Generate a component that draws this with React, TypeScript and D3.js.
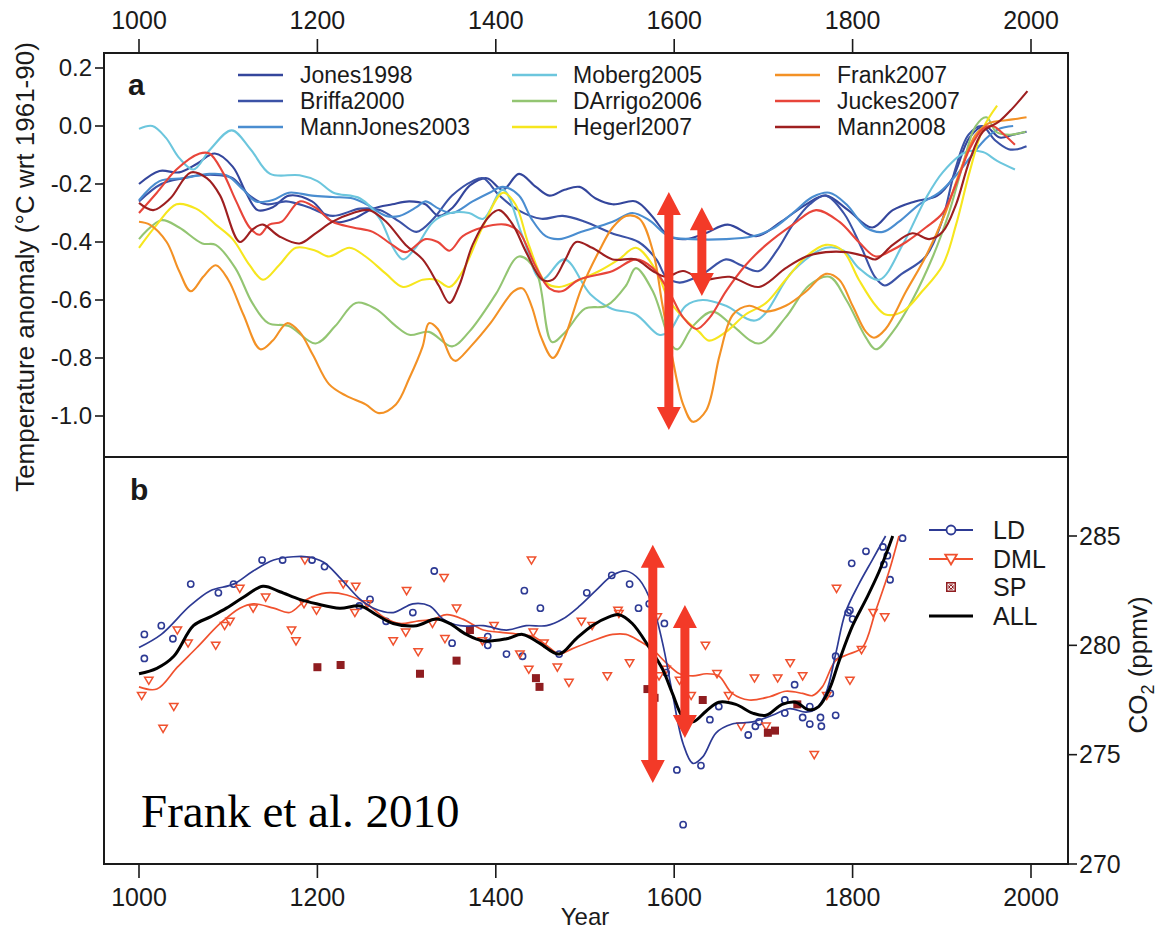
import React from "react";
import * as d3 from "d3";

// ---------- axes / ticks ----------
const yearTicks = [1000, 1200, 1400, 1600, 1800, 2000];
const tempTicks = [0.2, 0.0, -0.2, -0.4, -0.6, -0.8, -1.0];
const co2Ticks = [285, 280, 275, 270];

// ---------- panel a: temperature reconstructions [year, anomaly] ----------
const jones1998: [number, number][] = [[1000,-0.20],[1023,-0.155],[1045,-0.16],[1065,-0.13],[1085,-0.095],[1105,-0.14],[1120,-0.23],[1133,-0.29],[1150,-0.28],[1168,-0.24],[1194,-0.26],[1217,-0.33],[1240,-0.32],[1262,-0.285],[1284,-0.27],[1303,-0.26],[1321,-0.27],[1336,-0.31],[1352,-0.28],[1371,-0.205],[1390,-0.18],[1408,-0.22],[1426,-0.165],[1445,-0.21],[1460,-0.24],[1477,-0.22],[1494,-0.21],[1512,-0.25],[1531,-0.27],[1557,-0.26],[1575,-0.31],[1594,-0.38],[1613,-0.39],[1635,-0.37],[1660,-0.34],[1692,-0.38],[1720,-0.33],[1748,-0.27],[1770,-0.24],[1795,-0.29],[1822,-0.35],[1845,-0.29],[1870,-0.26],[1895,-0.24],[1912,-0.18],[1931,-0.04],[1948,0.0],[1965,-0.04],[1980,-0.03],[1995,-0.02]];
const briffa2000: [number, number][] = [[1000,-0.26],[1025,-0.20],[1050,-0.18],[1068,-0.17],[1090,-0.17],[1105,-0.18],[1124,-0.24],[1143,-0.27],[1165,-0.26],[1190,-0.28],[1217,-0.31],[1248,-0.285],[1270,-0.29],[1292,-0.33],[1311,-0.365],[1330,-0.32],[1351,-0.24],[1374,-0.19],[1386,-0.18],[1404,-0.24],[1425,-0.29],[1451,-0.32],[1475,-0.31],[1500,-0.33],[1530,-0.37],[1560,-0.40],[1580,-0.46],[1591,-0.52],[1606,-0.54],[1632,-0.51],[1658,-0.46],[1675,-0.48],[1695,-0.50],[1715,-0.43],[1733,-0.34],[1752,-0.27],[1770,-0.24],[1790,-0.30],[1810,-0.42],[1825,-0.52],[1836,-0.55],[1855,-0.51],[1882,-0.45],[1900,-0.33],[1915,-0.15],[1930,-0.03],[1945,0.0],[1960,-0.05],[1975,-0.08],[1985,-0.08],[1995,-0.07]];
const mannJones2003: [number, number][] = [[1000,-0.256],[1023,-0.19],[1050,-0.18],[1079,-0.165],[1098,-0.17],[1117,-0.22],[1131,-0.26],[1150,-0.255],[1168,-0.23],[1194,-0.24],[1217,-0.245],[1240,-0.25],[1255,-0.27],[1277,-0.31],[1292,-0.31],[1311,-0.28],[1321,-0.26],[1336,-0.285],[1351,-0.30],[1374,-0.26],[1393,-0.23],[1408,-0.21],[1426,-0.24],[1440,-0.32],[1456,-0.38],[1471,-0.39],[1496,-0.365],[1531,-0.33],[1553,-0.30],[1572,-0.325],[1594,-0.38],[1620,-0.39],[1658,-0.39],[1688,-0.38],[1710,-0.355],[1733,-0.30],[1755,-0.245],[1774,-0.23],[1793,-0.27],[1815,-0.35],[1834,-0.365],[1852,-0.33],[1875,-0.27],[1897,-0.23],[1916,-0.17],[1934,-0.10],[1949,-0.045],[1964,-0.01],[1980,0.0]];
const moberg2005: [number, number][] = [[1000,-0.01],[1015,0.0],[1030,-0.04],[1045,-0.11],[1061,-0.15],[1080,-0.08],[1104,-0.015],[1125,-0.08],[1147,-0.165],[1180,-0.17],[1200,-0.19],[1218,-0.23],[1248,-0.25],[1270,-0.32],[1285,-0.42],[1296,-0.46],[1310,-0.42],[1330,-0.33],[1349,-0.30],[1370,-0.30],[1386,-0.32],[1408,-0.22],[1430,-0.38],[1451,-0.53],[1477,-0.46],[1506,-0.58],[1530,-0.63],[1557,-0.65],[1583,-0.72],[1594,-0.71],[1613,-0.62],[1632,-0.60],[1658,-0.62],[1692,-0.67],[1733,-0.50],[1770,-0.42],[1790,-0.43],[1807,-0.49],[1830,-0.53],[1856,-0.41],[1882,-0.25],[1901,-0.16],[1927,-0.09],[1946,-0.09],[1962,-0.12],[1982,-0.15]];
const dArrigo2006: [number, number][] = [[1000,-0.39],[1025,-0.325],[1045,-0.35],[1071,-0.405],[1086,-0.41],[1108,-0.49],[1127,-0.61],[1145,-0.68],[1168,-0.69],[1198,-0.75],[1220,-0.69],[1243,-0.61],[1265,-0.63],[1288,-0.69],[1303,-0.72],[1325,-0.71],[1351,-0.76],[1370,-0.71],[1400,-0.58],[1426,-0.45],[1445,-0.50],[1463,-0.745],[1478,-0.71],[1500,-0.63],[1524,-0.62],[1546,-0.55],[1557,-0.49],[1576,-0.57],[1598,-0.76],[1604,-0.77],[1621,-0.69],[1643,-0.64],[1666,-0.69],[1695,-0.75],[1725,-0.66],[1751,-0.55],[1774,-0.52],[1793,-0.60],[1815,-0.73],[1826,-0.77],[1845,-0.71],[1867,-0.60],[1890,-0.45],[1908,-0.30],[1923,-0.14],[1938,0.0],[1950,0.03],[1961,-0.02],[1976,-0.03],[1994,-0.02]];
const hegerl2007: [number, number][] = [[1000,-0.42],[1020,-0.34],[1042,-0.27],[1064,-0.285],[1086,-0.34],[1105,-0.39],[1124,-0.48],[1139,-0.53],[1157,-0.48],[1176,-0.42],[1198,-0.43],[1213,-0.45],[1236,-0.42],[1254,-0.45],[1277,-0.51],[1296,-0.555],[1318,-0.53],[1333,-0.53],[1348,-0.555],[1363,-0.50],[1385,-0.35],[1408,-0.23],[1422,-0.27],[1437,-0.41],[1456,-0.54],[1471,-0.555],[1494,-0.53],[1516,-0.50],[1538,-0.46],[1557,-0.42],[1580,-0.50],[1594,-0.60],[1610,-0.66],[1628,-0.71],[1639,-0.74],[1658,-0.71],[1680,-0.65],[1703,-0.61],[1725,-0.53],[1748,-0.45],[1770,-0.41],[1789,-0.43],[1807,-0.53],[1826,-0.62],[1837,-0.65],[1856,-0.64],[1878,-0.57],[1901,-0.48],[1916,-0.34],[1931,-0.16],[1946,-0.01],[1962,0.07]];
const frank2007: [number, number][] = [[1000,-0.33],[1012,-0.34],[1031,-0.40],[1045,-0.50],[1058,-0.57],[1072,-0.52],[1086,-0.48],[1100,-0.53],[1117,-0.65],[1136,-0.77],[1150,-0.74],[1166,-0.68],[1180,-0.71],[1195,-0.79],[1213,-0.89],[1232,-0.93],[1254,-0.96],[1269,-0.99],[1288,-0.96],[1303,-0.87],[1318,-0.76],[1325,-0.68],[1335,-0.70],[1350,-0.80],[1355,-0.81],[1372,-0.76],[1394,-0.68],[1420,-0.57],[1430,-0.56],[1440,-0.62],[1451,-0.73],[1464,-0.80],[1477,-0.73],[1496,-0.56],[1516,-0.43],[1531,-0.35],[1546,-0.31],[1561,-0.32],[1576,-0.43],[1587,-0.62],[1598,-0.80],[1610,-0.96],[1621,-1.02],[1636,-0.98],[1651,-0.79],[1666,-0.65],[1684,-0.62],[1703,-0.64],[1725,-0.62],[1748,-0.57],[1770,-0.51],[1785,-0.53],[1800,-0.62],[1815,-0.71],[1824,-0.73],[1837,-0.70],[1860,-0.57],[1882,-0.45],[1904,-0.30],[1920,-0.16],[1938,-0.03],[1953,0.01],[1972,0.02],[1985,0.025],[1995,0.03]];
const juckes2007: [number, number][] = [[1000,-0.30],[1020,-0.23],[1042,-0.15],[1068,-0.095],[1079,-0.095],[1094,-0.16],[1109,-0.26],[1124,-0.35],[1135,-0.375],[1146,-0.34],[1160,-0.33],[1180,-0.26],[1197,-0.28],[1217,-0.33],[1240,-0.35],[1262,-0.365],[1284,-0.41],[1299,-0.435],[1321,-0.39],[1335,-0.40],[1348,-0.43],[1363,-0.38],[1385,-0.35],[1411,-0.34],[1426,-0.365],[1444,-0.48],[1460,-0.56],[1474,-0.57],[1493,-0.53],[1531,-0.50],[1557,-0.46],[1576,-0.49],[1594,-0.57],[1610,-0.66],[1625,-0.70],[1640,-0.66],[1658,-0.57],[1680,-0.48],[1703,-0.41],[1733,-0.34],[1759,-0.29],[1785,-0.33],[1807,-0.40],[1826,-0.45],[1843,-0.43],[1860,-0.40],[1882,-0.35],[1901,-0.30],[1916,-0.20],[1931,-0.08],[1946,-0.01],[1957,0.0],[1970,-0.03],[1982,-0.065]];
const mann2008: [number, number][] = [[1000,-0.265],[1016,-0.29],[1035,-0.25],[1058,-0.16],[1076,-0.18],[1091,-0.24],[1113,-0.40],[1128,-0.355],[1139,-0.34],[1157,-0.38],[1180,-0.405],[1198,-0.37],[1217,-0.33],[1240,-0.30],[1258,-0.29],[1277,-0.33],[1299,-0.41],[1318,-0.46],[1336,-0.55],[1348,-0.61],[1359,-0.55],[1374,-0.41],[1393,-0.31],[1404,-0.29],[1419,-0.34],[1434,-0.435],[1452,-0.53],[1464,-0.53],[1478,-0.46],[1490,-0.40],[1508,-0.42],[1531,-0.46],[1557,-0.46],[1576,-0.50],[1591,-0.52],[1610,-0.50],[1632,-0.53],[1662,-0.52],[1695,-0.555],[1725,-0.49],[1748,-0.45],[1770,-0.435],[1793,-0.435],[1815,-0.45],[1826,-0.46],[1845,-0.41],[1867,-0.37],[1886,-0.39],[1901,-0.365],[1916,-0.27],[1931,-0.12],[1946,-0.02],[1964,0.015],[1979,0.06],[1996,0.12]];

const recNames = ["Jones1998","Briffa2000","MannJones2003","Moberg2005","DArrigo2006","Hegerl2007","Frank2007","Juckes2007","Mann2008"];
const recColors = ["#34469c","#3b52a6","#4a8dd0","#6cc6dd","#93c572","#f6e61e","#f39125","#e8453a","#9e1f20"];
const recData = [jones1998, briffa2000, mannJones2003, moberg2005, dArrigo2006, hegerl2007, frank2007, juckes2007, mann2008];

// ---------- panel b: CO2 [year, ppmv] ----------
const ldPoints: [number, number][] = [[1006,280.5],[1006,279.4],[1025,280.9],[1038,280.3],[1058,282.8],[1089,282.4],[1106,282.8],[1138,283.9],[1161,283.9],[1194,283.9],[1208,283.6],[1247,281.8],[1259,282.1],[1277,281.1],[1307,281.5],[1331,283.4],[1351,280.1],[1391,280.4],[1391,280.0],[1412,279.6],[1430,279.5],[1432,282.5],[1450,281.7],[1471,279.6],[1502,282.4],[1530,283.2],[1550,282.8],[1560,281.7],[1572,281.9],[1589,281.0],[1591,278.75],[1603,274.3],[1610,271.8],[1630,274.5],[1640,276.6],[1650,277.2],[1683,275.9],[1691,276.3],[1695,276.5],[1724,276.9],[1724,277.5],[1735,278.2],[1744,276.7],[1752,277.2],[1752,276.4],[1764,276.7],[1765,276.3],[1775,277.8],[1781,276.8],[1781,279.5],[1795,281.5],[1797,281.6],[1800,281.2],[1799,283.75],[1815,284.3],[1834,284.5],[1835,283.7],[1839,284.1],[1842,283.0],[1856,284.9]];
const dmlPoints: [number, number][] = [[1003,277.7],[1011,278.4],[1027,276.2],[1039,277.2],[1043,280.7],[1055,280.1],[1086,280.0],[1096,280.9],[1102,281.1],[1113,282.6],[1128,281.7],[1142,282.2],[1171,280.7],[1176,280.2],[1185,281.9],[1186,283.9],[1199,281.6],[1229,282.8],[1243,282.7],[1242,281.5],[1256,281.9],[1285,280.2],[1299,280.6],[1300,282.5],[1313,279.7],[1329,281.0],[1342,283.1],[1343,280.3],[1356,281.7],[1385,280.2],[1398,280.9],[1427,279.6],[1437,278.9],[1440,283.9],[1442,280.6],[1454,280.1],[1469,279.0],[1482,278.3],[1496,281.1],[1508,280.9],[1525,278.6],[1537,281.6],[1538,281.45],[1550,279.2],[1581,281.3],[1583,278.6],[1591,278.9],[1606,278.4],[1619,277.7],[1635,280.0],[1648,278.7],[1661,277.7],[1675,276.3],[1690,278.5],[1703,276.3],[1716,278.5],[1730,279.2],[1744,278.6],[1757,275.0],[1771,277.7],[1782,282.6],[1797,278.4],[1810,279.8],[1823,281.5],[1836,281.3]];
const spPoints: [number, number][] = [[1200,279.0],[1226,279.1],[1315,278.7],[1356,279.3],[1371,280.7],[1445,278.5],[1449,278.1],[1570,278.0],[1578,277.6],[1632,277.5],[1705,276.0],[1713,276.1],[1738,277.3]];
const ldCurve: [number, number][] = [[1000,279.9],[1025,280.5],[1057,281.8],[1080,282.5],[1106,282.8],[1128,283.4],[1151,283.9],[1173,284.05],[1188,284.05],[1207,283.8],[1225,283.1],[1248,282.1],[1263,281.7],[1285,281.5],[1307,281.9],[1326,281.8],[1341,281.2],[1360,280.9],[1386,280.9],[1412,280.7],[1434,280.9],[1457,280.9],[1475,281.2],[1494,281.8],[1512,282.5],[1531,283.2],[1546,283.4],[1561,283.0],[1576,281.8],[1587,280.1],[1598,277.8],[1610,275.5],[1621,274.6],[1632,274.9],[1647,276.0],[1665,276.4],[1688,276.5],[1710,276.8],[1729,277.1],[1748,276.95],[1759,277.1],[1770,277.8],[1781,279.6],[1792,281.5],[1807,282.8],[1822,283.9],[1837,285.0]];
const dmlCurve: [number, number][] = [[1000,278.1],[1020,278.0],[1043,279.0],[1065,279.9],[1091,281.0],[1113,281.7],[1128,281.9],[1151,281.7],[1169,281.5],[1188,282.1],[1210,282.4],[1233,282.3],[1255,281.9],[1274,281.3],[1292,281.0],[1311,281.1],[1330,281.2],[1345,281.4],[1363,281.2],[1386,280.7],[1404,280.6],[1427,280.5],[1442,280.4],[1457,280.0],[1471,279.6],[1486,279.85],[1508,280.2],[1531,280.5],[1546,280.5],[1561,280.2],[1576,279.8],[1591,279.2],[1606,278.7],[1621,278.6],[1636,278.7],[1650,278.6],[1665,277.8],[1684,277.5],[1707,277.65],[1725,277.9],[1744,277.8],[1755,277.7],[1766,278.1],[1781,279.3],[1796,279.6],[1811,279.9],[1826,281.6],[1841,283.4],[1852,285.0]];
const allCurve: [number, number][] = [[1000,278.7],[1020,278.95],[1039,279.5],[1061,280.9],[1080,281.3],[1098,281.7],[1117,282.2],[1139,282.7],[1158,282.45],[1180,282.1],[1199,281.9],[1225,281.7],[1248,281.8],[1266,281.4],[1285,281.0],[1311,280.9],[1333,281.2],[1348,281.0],[1367,280.5],[1386,280.2],[1412,280.3],[1430,280.5],[1449,280.1],[1471,279.6],[1490,280.3],[1508,280.9],[1527,281.3],[1538,281.4],[1553,281.0],[1572,279.9],[1587,278.9],[1598,277.8],[1610,276.7],[1621,276.5],[1636,277.0],[1650,277.4],[1669,277.3],[1688,276.9],[1703,276.8],[1721,277.3],[1736,277.4],[1751,277.05],[1762,277.2],[1774,278.0],[1785,279.3],[1800,280.9],[1815,282.1],[1830,283.4],[1845,285.0]];

// annotation arrows: [year, from, to]
const arrowsA: [number, number, number][] = [[1594, -0.228, -1.048], [1631, -0.28, -0.586]];
const arrowsB: [number, number, number][] = [[1576, 284.6, 273.7], [1612, 281.85, 275.76]];

const FONT = "'Liberation Sans', Arial, Helvetica, sans-serif";
const INK = "#1a1a1a";

function arrowPath(x: number, y1: number, y2: number) {
  const hw = 12, hh = 23, sw = 4.5;
  const top = Math.min(y1, y2), bot = Math.max(y1, y2);
  return `M${x},${top}L${x + hw},${top + hh}L${x + sw},${top + hh}L${x + sw},${bot - hh}L${x + hw},${bot - hh}L${x},${bot}L${x - hw},${bot - hh}L${x - sw},${bot - hh}L${x - sw},${top + hh}L${x - hw},${top + hh}Z`;
}

export default function App() {
  const L = 104, R = 1068, TA = 53, MID = 457, BB = 864;
  const x = d3.scaleLinear().domain([1000, 2000]).range([139, 1031]);
  const yA = d3.scaleLinear().domain([0, -1]).range([126, 416]);
  const yB = d3.scaleLinear().domain([270, 285]).range([864, 536]);

  const lineA = d3.line<[number, number]>().x(d => x(d[0])).y(d => yA(d[1])).curve(d3.curveCatmullRom.alpha(0.5));
  const lineB = d3.line<[number, number]>().x(d => x(d[0])).y(d => yB(d[1])).curve(d3.curveCatmullRom.alpha(0.5));

  const legendCols = [{ lx: 238, tx: 300 }, { lx: 512, tx: 573 }, { lx: 775, tx: 837 }];
  const legendRows = [75, 101, 127];

  const LDc = "#2d3a94", DMLc = "#f0512e", SPc = "#8f1d20", ARc = "#f33a28";

  const tri = (cx: number, cy: number, s: number) =>
    `M${cx - s},${cy - s * 0.75}L${cx + s},${cy - s * 0.75}L${cx},${cy + s * 0.95}Z`;

  return (
    <svg width={1159} height={932} style={{ position: "absolute", left: 0, top: 0, background: "#fff" }} fontFamily={FONT}>
      <defs>
        <clipPath id="clipA"><rect x={L} y={TA} width={R - L} height={MID - TA} /></clipPath>
        <clipPath id="clipB"><rect x={L} y={MID} width={R - L} height={BB - MID} /></clipPath>
      </defs>
      <rect x={0} y={0} width={1159} height={932} fill="#fff" />

      {/* panel a lines */}
      <g clipPath="url(#clipA)" fill="none" strokeWidth={2.1} strokeLinejoin="round">
        {recData.map((d, i) => (
          <path key={recNames[i]} d={lineA(d) || ""} stroke={recColors[i]} />
        ))}
      </g>

      {/* panel a legend */}
      {recNames.map((n, i) => {
        const c = legendCols[Math.floor(i / 3)], ry = legendRows[i % 3];
        return (
          <g key={"lg" + n}>
            <line x1={c.lx} x2={c.lx + 45} y1={ry} y2={ry} stroke={recColors[i]} strokeWidth={2.6} />
            <text x={c.tx} y={ry} dy="0.35em" fontSize={23} fill={INK}>{n}</text>
          </g>
        );
      })}
      <text x={128} y={95} fontSize={30} fontWeight="bold" fill={INK}>a</text>

      {/* arrows a */}
      {arrowsA.map((a, i) => (
        <path key={"aa" + i} d={arrowPath(x(a[0]), yA(a[1]), yA(a[2]))} fill={ARc} />
      ))}

      {/* panel b */}
      <g clipPath="url(#clipB)">
        {ldPoints.map((p, i) => (
          <circle key={"ld" + i} cx={x(p[0])} cy={yB(p[1])} r={3.1} fill="none" stroke={LDc} strokeWidth={1.6} />
        ))}
        {dmlPoints.map((p, i) => (
          <path key={"dm" + i} d={tri(x(p[0]), yB(p[1]), 4.2)} fill="none" stroke={DMLc} strokeWidth={1.5} />
        ))}
        {spPoints.map((p, i) => (
          <rect key={"sp" + i} x={x(p[0]) - 4} y={yB(p[1]) - 4} width={8} height={8} fill={SPc} />
        ))}
        <path d={lineB(dmlCurve) || ""} fill="none" stroke={DMLc} strokeWidth={1.7} />
        <path d={lineB(ldCurve) || ""} fill="none" stroke={LDc} strokeWidth={1.7} />
        <path d={lineB(allCurve) || ""} fill="none" stroke="#000" strokeWidth={3} />
      </g>
      <text x={130} y={500} fontSize={30} fontWeight="bold" fill={INK}>b</text>

      {arrowsB.map((a, i) => (
        <path key={"ab" + i} d={arrowPath(x(a[0]), yB(a[1]), yB(a[2]))} fill={ARc} />
      ))}

      {/* panel b legend */}
      <g>
        <line x1={929} x2={973} y1={530} y2={530} stroke={LDc} strokeWidth={2} />
        <circle cx={951} cy={530} r={4.5} fill="#fff" stroke={LDc} strokeWidth={1.8} />
        <text x={993} y={530} dy="0.35em" fontSize={25} fill={INK}>LD</text>
        <line x1={929} x2={973} y1={559} y2={559} stroke={DMLc} strokeWidth={2} />
        <path d={tri(951, 559, 5.8)} fill="#fff" stroke={DMLc} strokeWidth={1.8} />
        <text x={993} y={559} dy="0.35em" fontSize={25} fill={INK}>DML</text>
        <rect x={946} y={582} width={10} height={10} fill={SPc} />
        <rect x={948} y={584} width={6} height={6} fill="none" stroke="#fff" strokeWidth={0.9} />
        <line x1={948} y1={584} x2={954} y2={590} stroke="#fff" strokeWidth={0.9} />
        <line x1={954} y1={584} x2={948} y2={590} stroke="#fff" strokeWidth={0.9} />
        <text x={993} y={587} dy="0.35em" fontSize={25} fill={INK}>SP</text>
        <line x1={929} x2={973} y1={616} y2={616} stroke="#000" strokeWidth={3} />
        <text x={993} y={616} dy="0.35em" fontSize={25} fill={INK}>ALL</text>
      </g>

      <text x={141} y={827} fontSize={47} fontFamily="'Liberation Serif', 'Times New Roman', serif" fill="#000">Frank et al. 2010</text>

      {/* frames */}
      <rect x={L} y={TA} width={R - L} height={BB - TA} fill="none" stroke={INK} strokeWidth={2} />
      <line x1={L} x2={R} y1={MID} y2={MID} stroke={INK} strokeWidth={2} />

      {/* top axis */}
      {yearTicks.map(t => (
        <g key={"tt" + t}>
          <line x1={x(t)} x2={x(t)} y1={TA} y2={TA - 14} stroke={INK} strokeWidth={1.6} />
          <text x={x(t)} y={29} textAnchor="middle" fontSize={25} fill={INK}>{t}</text>
        </g>
      ))}
      {/* bottom axis */}
      {yearTicks.map(t => (
        <g key={"bt" + t}>
          <line x1={x(t)} x2={x(t)} y1={BB} y2={BB + 14} stroke={INK} strokeWidth={1.6} />
          <text x={x(t)} y={906} textAnchor="middle" fontSize={25} fill={INK}>{t}</text>
        </g>
      ))}
      <text x={x(1500)} y={925} textAnchor="middle" fontSize={24} fill={INK}>Year</text>

      {/* left axis (temperature) */}
      {tempTicks.map(t => (
        <g key={"lt" + t}>
          <line x1={L} x2={L - 9} y1={yA(t)} y2={yA(t)} stroke={INK} strokeWidth={1.6} />
          <text x={92} y={yA(t)} dy="0.35em" textAnchor="end" fontSize={24} fill={INK}>{t.toFixed(1)}</text>
        </g>
      ))}
      <text transform={`translate(34,267) rotate(-90)`} textAnchor="middle" fontSize={26} fill={INK}>
        Temperature anomaly (°C wrt 1961-90)
      </text>

      {/* right axis (CO2) */}
      {co2Ticks.map(t => (
        <g key={"rt" + t}>
          <line x1={R} x2={R + 9} y1={yB(t)} y2={yB(t)} stroke={INK} strokeWidth={1.6} />
          <text x={R + 11} y={yB(t)} dy="0.35em" fontSize={25} fill={INK}>{t}</text>
        </g>
      ))}
      <text transform={`translate(1147,665) rotate(-90)`} textAnchor="middle" fontSize={26} fill={INK}>
        CO<tspan fontSize={18} dy={7}>2</tspan><tspan dy={-7}> (ppmv)</tspan>
      </text>
    </svg>
  );
}
